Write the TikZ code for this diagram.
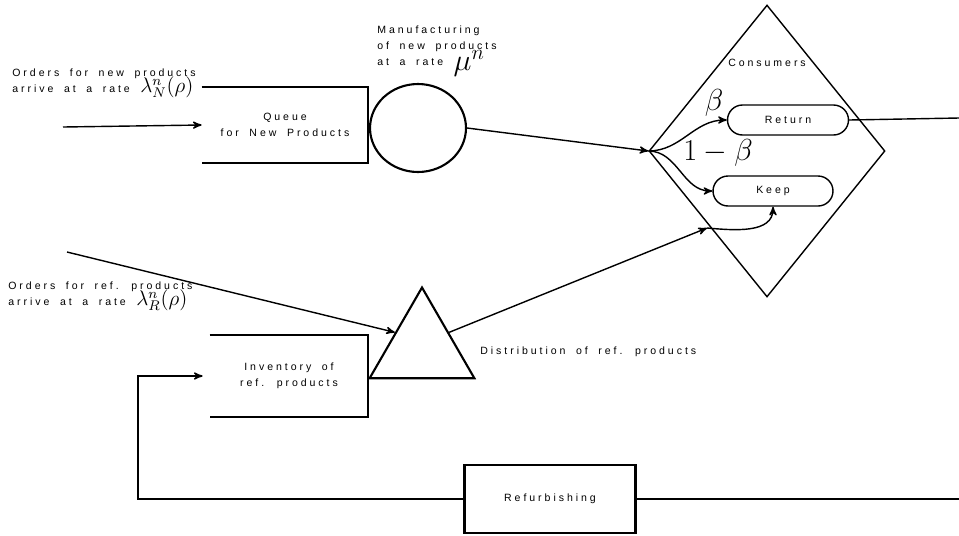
\documentclass[tikz,border=0pt]{standalone}
\usepackage{fontspec}
\setsansfont{Liberation Sans}[LetterSpace=28, WordSpace=1.8]
\usetikzlibrary{positioning,shapes,arrows}
\tikzset{
	lbl/.style={font=\sffamily\fontsize{6}{9}\selectfont, align=left, inner sep=0pt},
	openbox/.style={lbl, align=center, minimum width=3.32cm, minimum height=1.52cm},
	pill/.style={draw, line width=0.8pt, rounded corners=0.3cm, lbl, align=center,
		minimum width=2.42cm, minimum height=0.6cm},
	flow/.style={->, >=stealth', line width=0.8pt}
}
\begin{document}
\begin{tikzpicture}[x=0.02cm, y=-0.02cm]
	\useasboundingbox (0,0) rectangle (959,535);
	% new products
	\node [openbox] (queue) at (285,125) {Queue\\for New Products};
	\draw [line width=1pt] (queue.north west) -| (queue.south east) -- (queue.south west);
	\node [ellipse, draw, line width=1.2pt, minimum width=1.92cm, minimum height=1.76cm] (mfg) at (418,128) {};
	\node [lbl, anchor=west] (newlbl) at (12,81) {Orders for new products\\arrive at a rate {\large\smash{$\lambda_N^n(\rho)$}}};
	\node [lbl, anchor=north west] (mfglbl) at (377,26) {Manufacturing\\of new products\\at a rate {\LARGE\smash{\raisebox{-3pt}{$\mu^n$}}}};
	\coordinate (newsrc) at (63,127);
	% consumers
	\node [diamond, draw, line width=0.8pt, minimum width=4.72cm, minimum height=5.84cm] (cons) at (767,151) {};
	\node [lbl] (conslbl) at (767,63) {Consumers};
	\node [pill] (ret) at (788,120) {Return};
	\node [pill, minimum width=2.4cm] (keep) at (773,191) {Keep};
	\node (beta) at (714,103) {\LARGE$\beta$};
	\node (nbeta) at (718,153) {\LARGE$1-\beta$};
	\coordinate (retout) at (959,118);
	% refurbished products
	\node [regular polygon, regular polygon sides=3, draw, line width=1.2pt, minimum size=2.42cm] (dist) at (422,348) {};
	\node [lbl, anchor=west] (distlbl) at (480,352) {Distribution of ref. products};
	\node [openbox, minimum width=3.16cm, minimum height=1.62cm] (inv) at (289,376) {Inventory of\\ref. products};
	\draw [line width=1pt] (inv.north west) -| (inv.south east) -- (inv.south west);
	\node [lbl, anchor=west] (reflbl) at (8,294) {Orders for ref. products\\arrive at a rate {\large\smash{$\lambda_R^n(\rho)$}}};
	\node [draw, line width=1.2pt, lbl, align=center, minimum width=3.42cm, minimum height=1.36cm] (refurb) at (550,499) {Refurbishing};
	\coordinate (refsrc) at (67,252);
	\coordinate (kin) at (707,228);
	\coordinate (loop) at (138,376);
	\coordinate (refin) at (959,499);
	% connectors
	\draw [flow] (newsrc) -- (queue.west);
	\draw [flow] (mfg.east) -- (cons.west);
	\draw [flow] (cons.west) to[out=0, in=180] (ret.west);
	\draw [flow] (cons.west) to[out=0, in=180] (keep.west);
	\draw [line width=0.8pt] (ret.east) -- (retout);
	\draw [flow] (refsrc) -- (dist.side 1);
	\draw [flow] (dist.side 3) -- (kin);
	\draw [flow] (kin) to[out=-5, in=-90] (keep.south);
	\draw [line width=0.8pt] (refin) -- (refurb.east);
	\draw [flow, shorten >=0.14cm] (refurb.west) -| (loop) -- (inv.west);
\end{tikzpicture}
\end{document}
